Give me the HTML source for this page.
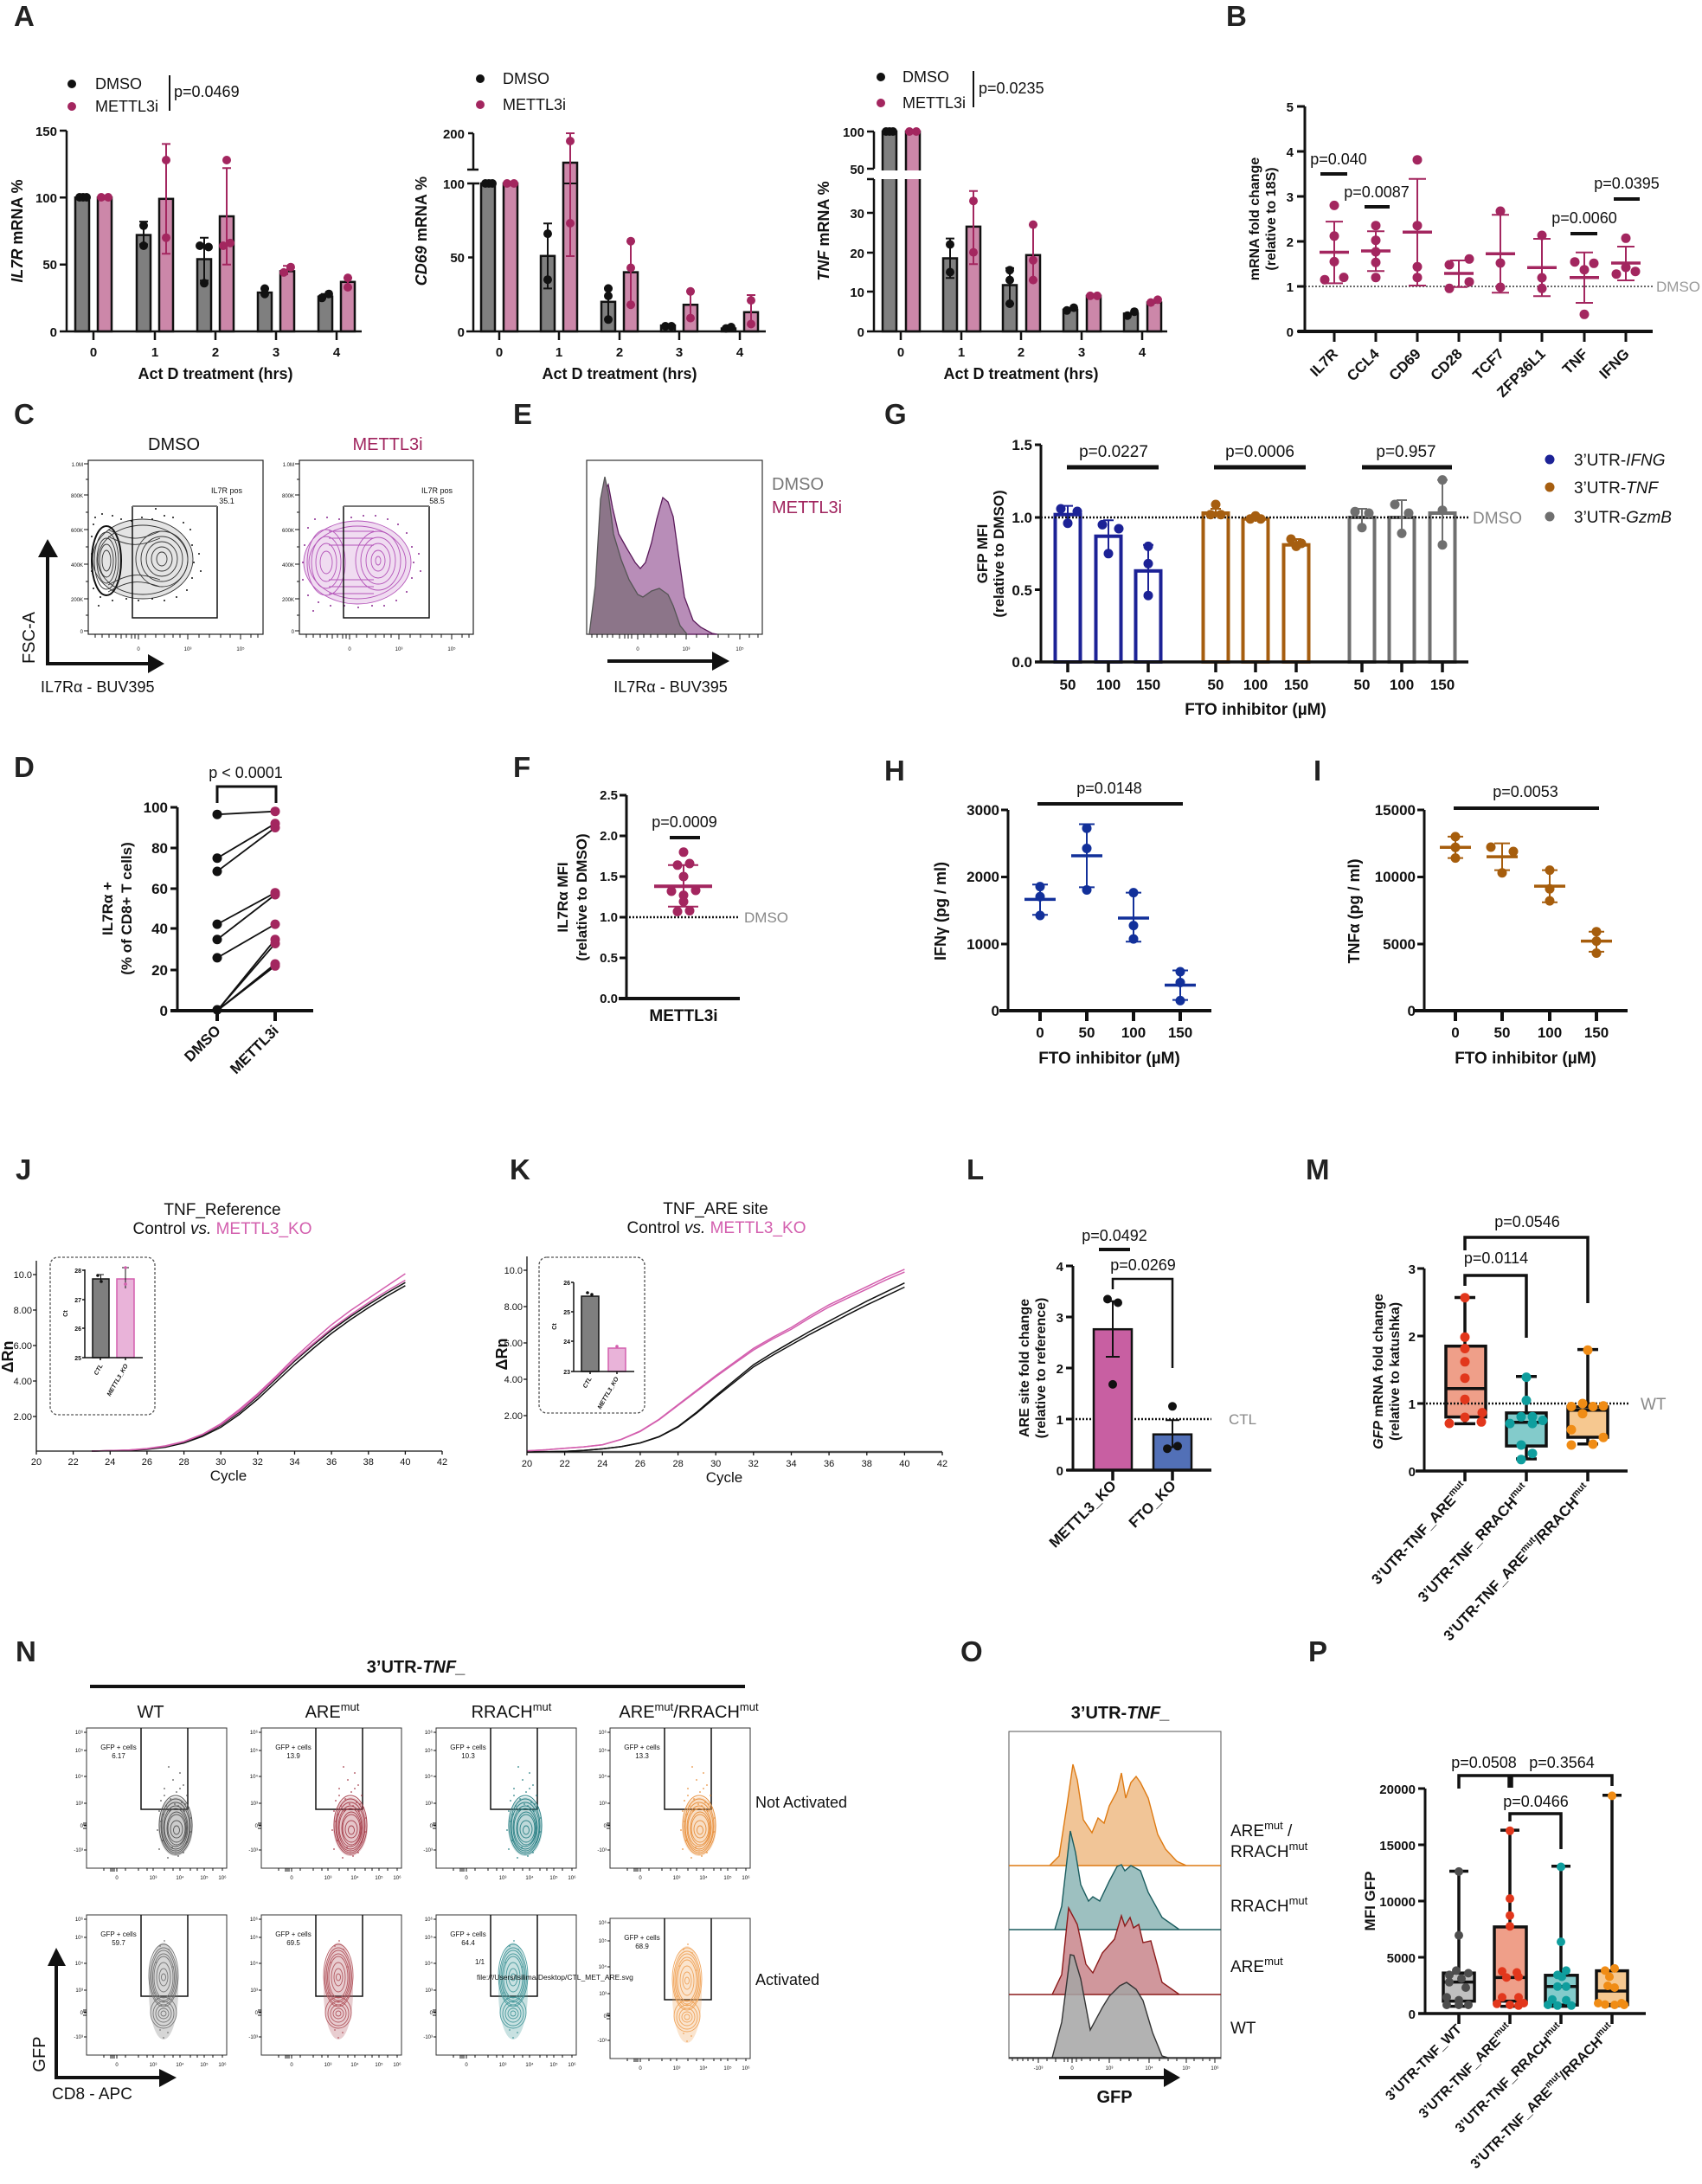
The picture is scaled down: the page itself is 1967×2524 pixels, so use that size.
<!DOCTYPE html>
<html><head><meta charset="utf-8"><style>
html,body{margin:0;padding:0;background:#fff}
svg{display:block}
text{font-family:"Liberation Sans",Arial,sans-serif;fill:#111}
.L{font-size:33px;font-weight:bold;fill:#222}
.tk{font-size:15px;font-weight:bold}
.tt{font-size:18px;font-weight:bold}
.lg{font-size:18px}
.xl{font-size:17px;font-weight:bold}
.fl{font-size:7px}
.ft{font-size:6px}
</style></head><body>
<svg xmlns="http://www.w3.org/2000/svg" width="1967" height="2524" viewBox="0 0 1967 2524">
<defs>
<g id="nr1">
<ellipse cx="103" cy="114" rx="20" ry="34" fill-opacity="0.3" stroke="none"/>
<ellipse cx="103" cy="112" rx="19" ry="34" fill="none"/>
<ellipse cx="103" cy="113" rx="17" ry="31" fill="none"/>
<ellipse cx="103" cy="114" rx="16" ry="28" fill="none"/>
<ellipse cx="103" cy="115" rx="14" ry="25" fill="none"/>
<ellipse cx="103" cy="115" rx="13" ry="22" fill="none"/>
<ellipse cx="104" cy="116" rx="11" ry="19" fill="none"/>
<ellipse cx="104" cy="116" rx="10" ry="16" fill="none"/>
<ellipse cx="104" cy="117" rx="7" ry="10" fill="none"/>
<ellipse cx="104" cy="118" rx="3.5" ry="5" fill="none"/>
<g stroke="none">
<circle cx="95" cy="45" r="0.9"/><circle cx="108" cy="52" r="0.9"/><circle cx="100" cy="60" r="0.9"/><circle cx="112" cy="66" r="0.9"/><circle cx="90" cy="70" r="0.9"/><circle cx="104" cy="74" r="0.9"/><circle cx="116" cy="78" r="0.9"/><circle cx="86" cy="84" r="0.9"/><circle cx="97" cy="82" r="0.9"/><circle cx="110" cy="86" r="0.9"/><circle cx="92" cy="90" r="0.9"/><circle cx="118" cy="92" r="0.9"/><circle cx="84" cy="96" r="0.9"/><circle cx="100" cy="94" r="0.9"/><circle cx="88" cy="130" r="0.9"/><circle cx="116" cy="132" r="0.9"/><circle cx="84" cy="140" r="0.9"/><circle cx="112" cy="144" r="0.9"/><circle cx="94" cy="150" r="0.9"/><circle cx="106" cy="148" r="0.9"/><circle cx="120" cy="120" r="0.9"/><circle cx="82" cy="118" r="0.9"/><circle cx="86" cy="108" r="0.9"/><circle cx="121" cy="104" r="0.9"/><circle cx="99" cy="138" r="0.9"/><circle cx="108" cy="70" r="0.9"/><circle cx="96" cy="96" r="0.9"/><circle cx="113" cy="96" r="0.9"/><circle cx="102" cy="88" r="0.9"/><circle cx="90" cy="78" r="0.9"/><circle cx="106" cy="90" r="0.9"/><circle cx="114" cy="88" r="0.9"/><circle cx="89" cy="100" r="0.9"/>
</g>
</g>
<g id="nr2">
<ellipse cx="89" cy="88" rx="17" ry="56" fill-opacity="0.3" stroke="none"/>
<ellipse cx="89" cy="70" rx="17" ry="36" fill="none"/>
<ellipse cx="89" cy="71" rx="15.5" ry="33" fill="none"/>
<ellipse cx="89" cy="71" rx="14" ry="30" fill="none"/>
<ellipse cx="89" cy="72" rx="12.5" ry="27" fill="none"/>
<ellipse cx="89" cy="72" rx="11" ry="24" fill="none"/>
<ellipse cx="89" cy="72" rx="8" ry="17" fill="none"/>
<ellipse cx="89" cy="72" rx="5" ry="10" fill="none"/>
<ellipse cx="89" cy="72" rx="2.5" ry="4" fill="none"/>
<ellipse cx="89" cy="113" rx="15" ry="18" fill="none"/>
<ellipse cx="89" cy="114" rx="12" ry="14" fill="none"/>
<ellipse cx="89" cy="114" rx="9" ry="10" fill="none"/>
<ellipse cx="89" cy="114" rx="6" ry="6" fill="none"/>
<ellipse cx="89" cy="114" rx="3" ry="3" fill="none"/>
<g stroke="none">
<circle cx="90" cy="30" r="0.9"/><circle cx="85" cy="36" r="0.9"/><circle cx="95" cy="40" r="0.9"/><circle cx="80" cy="55" r="0.9"/><circle cx="100" cy="60" r="0.9"/><circle cx="78" cy="90" r="0.9"/><circle cx="101" cy="95" r="0.9"/><circle cx="85" cy="133" r="0.9"/><circle cx="94" cy="136" r="0.9"/><circle cx="89" cy="142" r="0.9"/>
</g>
</g>
<g id="nfr">
<rect x="0" y="0" width="162" height="162" fill="none" stroke="#333" stroke-width="1"/>
<path d="M63,0V94H117V0" fill="none" stroke="#111" stroke-width="1.5"/>
<text x="37" y="25" font-size="8" text-anchor="middle">GFP + cells</text>
<g class="ft" text-anchor="end">
<text x="-4" y="7">10⁶</text><text x="-4" y="28">10⁵</text><text x="-4" y="58">10⁴</text><text x="-4" y="89">10³</text><text x="-4" y="115">0</text><text x="-4" y="143">-10³</text>
</g>
<g class="ft" text-anchor="middle">
<text x="35" y="175">0</text><text x="77" y="175">10³</text><text x="108" y="175">10⁴</text><text x="136" y="175">10⁵</text><text x="157" y="175">10⁶</text>
</g>
<path d="M0,5h-3M0,26h-3M0,56h-3M0,87h-3M0,113h-3M0,141h-3M0,110h-4M0,112h-4M0,116h-4M35,162v4M77,162v3M108,162v3M136,162v3M157,162v3M20,162v3M28,162v4M30,162v4M32,162v4M45,162v3M60,162v3M70,162v3M90,162v3M100,162v3M120,162v3M128,162v3M146,162v3" stroke="#111" stroke-width="1"/>
</g>
</defs>

<!-- Panel letters -->
<text class="L" x="16" y="30">A</text>
<text class="L" x="1417" y="30">B</text>
<text class="L" x="16" y="490">C</text>
<text class="L" x="593" y="490">E</text>
<text class="L" x="1022" y="490">G</text>
<text class="L" x="16" y="898">D</text>
<text class="L" x="593" y="898">F</text>
<text class="L" x="1022" y="902">H</text>
<text class="L" x="1518" y="902">I</text>
<text class="L" x="18" y="1363">J</text>
<text class="L" x="589" y="1363">K</text>
<text class="L" x="1117" y="1363">L</text>
<text class="L" x="1509" y="1363">M</text>
<text class="L" x="18" y="1920">N</text>
<text class="L" x="1110" y="1920">O</text>
<text class="L" x="1512" y="1920">P</text>

<!-- ================= A chart 1 ================= -->
<g stroke="#111" stroke-width="2.5">
<rect x="87" y="228.3" width="16" height="154.7" fill="#7f7f7f"/>
<rect x="113" y="228.3" width="16" height="154.7" fill="#cc87a9"/>
<rect x="158" y="271.6" width="16" height="111.4" fill="#7f7f7f"/>
<rect x="184" y="229.8" width="16" height="153.2" fill="#cc87a9"/>
<rect x="228" y="299.5" width="16" height="83.5" fill="#7f7f7f"/>
<rect x="254" y="250" width="16" height="133" fill="#cc87a9"/>
<rect x="298" y="338.1" width="16" height="44.9" fill="#7f7f7f"/>
<rect x="324" y="313.4" width="16" height="69.6" fill="#cc87a9"/>
<rect x="368" y="342.8" width="16" height="40.2" fill="#7f7f7f"/>
<rect x="394" y="325.8" width="16" height="57.2" fill="#cc87a9"/>
</g>
<path d="M166,282.4V256.1M161,256.1H171M161,282.4H171M236,324.2V274.7M231,274.7H241M231,324.2H241M306,341.2V333.5M301,333.5H311M376,345.9V339.7M371,339.7H381" stroke="#111" stroke-width="2" fill="none"/>
<path d="M192,293.3V166.4M187,166.4H197M187,293.3H197M262,305.7V194.3M257,194.3H267M257,305.7H267M332,318V307.2M327,307.2H337M402,332V321.1M397,321.1H407" stroke="#a3265f" stroke-width="2" fill="none"/>
<g fill="#111">
<circle cx="92" cy="228" r="5"/><circle cx="96" cy="228" r="5"/><circle cx="100" cy="228" r="5"/><circle cx="166" cy="260.8" r="5"/><circle cx="166" cy="284" r="5"/><circle cx="231" cy="284" r="5"/><circle cx="241" cy="285.5" r="5"/><circle cx="236" cy="327.3" r="5"/><circle cx="306" cy="333.5" r="5"/><circle cx="306" cy="339.7" r="5"/><circle cx="372" cy="344.3" r="5"/><circle cx="380" cy="339.7" r="5"/>
</g>
<g fill="#a3265f">
<circle cx="117" cy="228" r="5"/><circle cx="125" cy="228" r="5"/><circle cx="192" cy="185" r="5"/><circle cx="192" cy="274.7" r="5"/><circle cx="262" cy="185" r="5"/><circle cx="258" cy="284" r="5"/><circle cx="266" cy="280.9" r="5"/><circle cx="328" cy="314.9" r="5"/><circle cx="336" cy="308.7" r="5"/><circle cx="402" cy="321.1" r="5"/><circle cx="402" cy="332" r="5"/>
</g>
<path d="M77,151V383M69,151H77M69,228.3H77M69,305.7H77M69,383H77M72,383H418M108,383V393M179,383V393M249,383V393M319,383V393M389,383V393" stroke="#111" stroke-width="2.5" fill="none"/>
<g class="tk" text-anchor="end"><text x="66" y="157">150</text><text x="66" y="234">100</text><text x="66" y="311">50</text><text x="66" y="389">0</text></g>
<g class="tk" text-anchor="middle"><text x="108" y="412">0</text><text x="179" y="412">1</text><text x="249" y="412">2</text><text x="319" y="412">3</text><text x="389" y="412">4</text></g>
<text class="tt" x="249" y="438" text-anchor="middle">Act D treatment (hrs)</text>
<text class="tt" transform="translate(26,267) rotate(-90)" text-anchor="middle"><tspan font-style="italic">IL7R</tspan> mRNA %</text>
<circle cx="83" cy="97" r="5" fill="#111"/><text class="lg" x="110" y="103">DMSO</text>
<circle cx="83" cy="123" r="5" fill="#a3265f"/><text class="lg" x="110" y="129">METTL3i</text>
<path d="M196,87V128" stroke="#111" stroke-width="2"/>
<text class="lg" x="201" y="112">p=0.0469</text>

<!-- ================= A chart 2 ================= -->
<g stroke="#111" stroke-width="2.5">
<rect x="556" y="212" width="16" height="171" fill="#7f7f7f"/>
<rect x="582" y="212" width="16" height="171" fill="#cc87a9"/>
<rect x="625" y="295.8" width="16" height="87.2" fill="#7f7f7f"/>
<rect x="651" y="188" width="16" height="195" fill="#cc87a9"/>
<rect x="695" y="348.8" width="16" height="34.2" fill="#7f7f7f"/>
<rect x="721" y="314.6" width="16" height="68.4" fill="#cc87a9"/>
<rect x="764" y="376.2" width="16" height="6.8" fill="#7f7f7f"/>
<rect x="790" y="352.2" width="16" height="30.8" fill="#cc87a9"/>
<rect x="834" y="379.6" width="16" height="3.4" fill="#7f7f7f"/>
<rect x="860" y="360.8" width="16" height="22.2" fill="#cc87a9"/>
</g>
<path d="M651,212H667" stroke="#111" stroke-width="2"/>
<path d="M633,333.4V258.2M628,258.2H638M628,333.4H638M703,369.3V333.4M698,333.4H708" stroke="#111" stroke-width="2" fill="none"/>
<path d="M659,296V154M654,154H664M654,296H664M729,352.2V278.7M724,278.7H734M724,352.2H734M798,367.6V336.8M793,336.8H803M868,374.5V341M863,341H873" stroke="#a3265f" stroke-width="2" fill="none"/>
<g fill="#111">
<circle cx="561" cy="212" r="5"/><circle cx="565" cy="212" r="5"/><circle cx="569" cy="212" r="5"/><circle cx="633" cy="270.1" r="5"/><circle cx="633" cy="323.2" r="5"/><circle cx="703" cy="333.4" r="5"/><circle cx="703" cy="342" r="5"/><circle cx="703" cy="369.3" r="5"/><circle cx="769" cy="377" r="5"/><circle cx="776" cy="377" r="5"/><circle cx="839" cy="379.6" r="5"/><circle cx="845" cy="378" r="5"/>
</g>
<g fill="#a3265f">
<circle cx="586" cy="212" r="5"/><circle cx="594" cy="212" r="5"/><circle cx="659" cy="163" r="5"/><circle cx="659" cy="258" r="5"/><circle cx="729" cy="278.7" r="5"/><circle cx="729" cy="309.5" r="5"/><circle cx="729" cy="352.2" r="5"/><circle cx="798" cy="336.8" r="5"/><circle cx="798" cy="367.6" r="5"/><circle cx="868" cy="347.1" r="5"/><circle cx="868" cy="374.5" r="5"/>
</g>
<path d="M547,212V383M547,154V196M541,154H547M540,196H553M540,212H554M541,297.5H547M541,383H547M539,383H885M577,383V393M646,383V393M716,383V393M785,383V393M855,383V393" stroke="#111" stroke-width="2.5" fill="none"/>
<g class="tk" text-anchor="end"><text x="537" y="160">200</text><text x="537" y="218">100</text><text x="537" y="303">50</text><text x="537" y="389">0</text></g>
<g class="tk" text-anchor="middle"><text x="577" y="412">0</text><text x="646" y="412">1</text><text x="716" y="412">2</text><text x="785" y="412">3</text><text x="855" y="412">4</text></g>
<text class="tt" x="716" y="438" text-anchor="middle">Act D treatment (hrs)</text>
<text class="tt" transform="translate(493,267) rotate(-90)" text-anchor="middle"><tspan font-style="italic">CD69</tspan> mRNA %</text>
<circle cx="555" cy="91" r="5" fill="#111"/><text class="lg" x="581" y="97">DMSO</text>
<circle cx="555" cy="121" r="5" fill="#a3265f"/><text class="lg" x="581" y="127">METTL3i</text>

<!-- ================= A chart 3 ================= -->
<g stroke="#111" stroke-width="2.5">
<rect x="1020" y="152" width="16" height="231" fill="#7f7f7f"/>
<rect x="1047" y="152" width="16" height="231" fill="#cc87a9"/>
<rect x="1090" y="298.5" width="16" height="84.5" fill="#7f7f7f"/>
<rect x="1117" y="261.9" width="16" height="121.1" fill="#cc87a9"/>
<rect x="1159" y="329.5" width="16" height="53.5" fill="#7f7f7f"/>
<rect x="1186" y="294.8" width="16" height="88.2" fill="#cc87a9"/>
<rect x="1229" y="357.9" width="16" height="25.1" fill="#7f7f7f"/>
<rect x="1256" y="341.9" width="16" height="41.1" fill="#cc87a9"/>
<rect x="1299" y="362.4" width="16" height="20.6" fill="#7f7f7f"/>
<rect x="1326" y="349.6" width="16" height="33.4" fill="#cc87a9"/>
</g>
<rect x="1000" y="197" width="70" height="10" fill="#fff"/>
<path d="M1098,321.3V275.6M1093,275.6H1103M1093,321.3H1103M1167,351V309.9M1162,309.9H1172M1162,351H1172" stroke="#111" stroke-width="2" fill="none"/>
<path d="M1125,305.3V220.8M1120,220.8H1130M1120,305.3H1130M1194,323.6V259.6M1189,259.6H1199M1189,323.6H1199" stroke="#a3265f" stroke-width="2" fill="none"/>
<g fill="#111">
<circle cx="1024" cy="152" r="5"/><circle cx="1028" cy="152" r="5"/><circle cx="1032" cy="152" r="5"/><circle cx="1098" cy="282.5" r="5"/><circle cx="1098" cy="314.5" r="5"/><circle cx="1167" cy="312.2" r="5"/><circle cx="1167" cy="323.6" r="5"/><circle cx="1167" cy="351" r="5"/><circle cx="1233" cy="358.8" r="5"/><circle cx="1241" cy="355.6" r="5"/><circle cx="1303" cy="364.7" r="5"/><circle cx="1311" cy="360.2" r="5"/>
</g>
<g fill="#a3265f">
<circle cx="1051" cy="152" r="5"/><circle cx="1059" cy="152" r="5"/><circle cx="1125" cy="232.2" r="5"/><circle cx="1125" cy="291.6" r="5"/><circle cx="1194" cy="259.6" r="5"/><circle cx="1194" cy="300.7" r="5"/><circle cx="1194" cy="323.6" r="5"/><circle cx="1260" cy="341.9" r="5"/><circle cx="1268" cy="341.9" r="5"/><circle cx="1330" cy="349.6" r="5"/><circle cx="1338" cy="346.4" r="5"/>
</g>
<path d="M1010,152V195M1010,207V383M1002,152H1010M1002,195H1010M1002,207H1010M1002,246H1010M1002,292H1010M1002,337H1010M1002,383H1010M1002,383H1349M1041,383V393M1111,383V393M1180,383V393M1250,383V393M1320,383V393" stroke="#111" stroke-width="2.5" fill="none"/>
<g class="tk" text-anchor="end"><text x="999" y="158">100</text><text x="999" y="201">50</text><text x="999" y="252">30</text><text x="999" y="298">20</text><text x="999" y="343">10</text><text x="999" y="389">0</text></g>
<g class="tk" text-anchor="middle"><text x="1041" y="412">0</text><text x="1111" y="412">1</text><text x="1180" y="412">2</text><text x="1250" y="412">3</text><text x="1320" y="412">4</text></g>
<text class="tt" x="1180" y="438" text-anchor="middle">Act D treatment (hrs)</text>
<text class="tt" transform="translate(958,267) rotate(-90)" text-anchor="middle"><tspan font-style="italic">TNF</tspan> mRNA %</text>
<circle cx="1018" cy="89" r="5" fill="#111"/><text class="lg" x="1043" y="95">DMSO</text>
<circle cx="1018" cy="119" r="5" fill="#a3265f"/><text class="lg" x="1043" y="125">METTL3i</text>
<path d="M1125,82V124" stroke="#111" stroke-width="2"/>
<text class="lg" x="1131" y="108">p=0.0235</text>

<!-- ================= B ================= -->
<path d="M1508,331H1912" stroke="#666" stroke-width="2" stroke-dasharray="2,2"/>
<text x="1914" y="337" font-size="17" fill="#999" style="fill:#999">DMSO</text>
<g stroke="#a3265f" fill="none">
<path stroke-width="3.5" d="M1525,291.5H1559M1573,290H1607M1621,268.3H1655M1669,316H1703M1717,293.3H1751M1765,309.3H1799M1814,320.7H1848M1862,304H1896"/>
<path stroke-width="2" d="M1542,327.4V256.1M1532,327.4H1552M1532,256.1H1552M1590,313.3V267.3M1580,313.3H1600M1580,267.3H1600M1638,330V206.7M1628,330H1648M1628,206.7H1648M1686,331.7V301M1676,331.7H1696M1676,301H1696M1734,338.3V248.3M1724,338.3H1744M1724,248.3H1744M1782,342.3V276M1772,342.3H1792M1772,276H1792M1831,350V291.7M1821,350H1841M1821,291.7H1841M1879,324V285M1869,324H1889M1869,285H1889"/>
</g>
<g fill="#a3265f">
<circle cx="1542" cy="237.4" r="5.5"/><circle cx="1542" cy="272.8" r="5.5"/><circle cx="1542" cy="302.4" r="5.5"/><circle cx="1531" cy="323.2" r="5.5"/><circle cx="1553" cy="320.6" r="5.5"/>
<circle cx="1590" cy="260.7" r="5.5"/><circle cx="1590" cy="277.7" r="5.5"/><circle cx="1590" cy="291" r="5.5"/><circle cx="1590" cy="303.3" r="5.5"/><circle cx="1590" cy="320.7" r="5.5"/>
<circle cx="1638" cy="184.7" r="5.5"/><circle cx="1638" cy="260.7" r="5.5"/><circle cx="1638" cy="308.3" r="5.5"/><circle cx="1638" cy="320.7" r="5.5"/>
<circle cx="1675" cy="306" r="5.5"/><circle cx="1698" cy="299.3" r="5.5"/><circle cx="1675" cy="333.3" r="5.5"/><circle cx="1698" cy="325.7" r="5.5"/>
<circle cx="1734" cy="244" r="5.5"/><circle cx="1734" cy="304" r="5.5"/><circle cx="1734" cy="332" r="5.5"/>
<circle cx="1782" cy="272" r="5.5"/><circle cx="1782" cy="321" r="5.5"/><circle cx="1782" cy="333.3" r="5.5"/>
<circle cx="1820" cy="302.7" r="5.5"/><circle cx="1842" cy="304.3" r="5.5"/><circle cx="1831" cy="311.7" r="5.5"/><circle cx="1831" cy="363.3" r="5.5"/>
<circle cx="1879" cy="275.3" r="5.5"/><circle cx="1868" cy="316.7" r="5.5"/><circle cx="1890" cy="313.7" r="5.5"/><circle cx="1879" cy="309" r="5.5"/>
</g>
<path d="M1508,123V383M1499,123H1508M1499,175H1508M1499,227H1508M1499,279H1508M1499,331H1508M1499,383H1508" stroke="#111" stroke-width="3" fill="none"/>
<path d="M1500,383H1910" stroke="#111" stroke-width="4"/>
<path d="M1542,383V395M1590,383V395M1638,383V395M1686,383V395M1734,383V395M1782,383V395M1831,383V395M1879,383V395" stroke="#111" stroke-width="3"/>
<g class="tk" text-anchor="end"><text x="1495" y="129">5</text><text x="1495" y="181">4</text><text x="1495" y="233">3</text><text x="1495" y="285">2</text><text x="1495" y="337">1</text><text x="1495" y="389">0</text></g>
<path d="M1526,201H1557M1577,239H1606M1815,270H1846M1865,230H1895" stroke="#111" stroke-width="4"/>
<g class="lg" text-anchor="middle"><text x="1547" y="190">p=0.040</text><text x="1591" y="228">p=0.0087</text><text x="1831" y="258">p=0.0060</text><text x="1880" y="218">p=0.0395</text></g>
<text font-size="16" font-weight="bold" transform="translate(1455,253) rotate(-90)" text-anchor="middle">mRNA fold change</text>
<text font-size="16" font-weight="bold" transform="translate(1474,253) rotate(-90)" text-anchor="middle">(relative to 18S)</text>
<g class="xl" text-anchor="end">
<text transform="translate(1547,410) rotate(-45)">IL7R</text>
<text transform="translate(1595,410) rotate(-45)">CCL4</text>
<text transform="translate(1643,410) rotate(-45)">CD69</text>
<text transform="translate(1691,410) rotate(-45)">CD28</text>
<text transform="translate(1739,410) rotate(-45)">TCF7</text>
<text transform="translate(1787,410) rotate(-45)">ZFP36L1</text>
<text transform="translate(1836,410) rotate(-45)">TNF</text>
<text transform="translate(1884,410) rotate(-45)">IFNG</text>
</g>

<!-- ================= C ================= -->
<text x="201" y="520" font-size="20" text-anchor="middle">DMSO</text>
<text x="448" y="520" font-size="20" text-anchor="middle" style="fill:#a0245e">METTL3i</text>
<rect x="102" y="532" width="202" height="201" fill="none" stroke="#222" stroke-width="1.2"/>
<rect x="346" y="532" width="201" height="201" fill="none" stroke="#222" stroke-width="1.2"/>
<g class="ft" text-anchor="end">
<text x="96" y="539">1.0M</text><text x="96" y="575">800K</text><text x="96" y="615">600K</text><text x="96" y="655">400K</text><text x="96" y="695">200K</text><text x="96" y="732">0</text>
<text x="340" y="539">1.0M</text><text x="340" y="575">800K</text><text x="340" y="615">600K</text><text x="340" y="655">400K</text><text x="340" y="695">200K</text><text x="340" y="732">0</text>
</g>
<g class="ft" text-anchor="middle">
<text x="160" y="752">0</text><text x="217" y="752">10³</text><text x="278" y="752">10⁵</text>
<text x="404" y="752">0</text><text x="461" y="752">10³</text><text x="522" y="752">10⁵</text>
<text x="737" y="752">0</text><text x="793" y="752">10³</text><text x="855" y="752">10⁵</text>
</g>
<path d="M102,536h-5M102,572h-5M102,612h-5M102,652h-5M102,692h-5M102,729h-5M102,554h-3M102,592h-3M102,632h-3M102,672h-3M102,711h-3M346,536h-5M346,572h-5M346,612h-5M346,652h-5M346,692h-5M346,729h-5M346,554h-3M346,592h-3M346,632h-3M346,672h-3M346,711h-3" stroke="#111" stroke-width="1"/>
<path d="M110,733v4M118,733v4M126,733v4M134,733v4M140,733v5M146,733v4M152,733v5M156,733v5M160,733v6M168,733v4M180,733v4M190,733v4M200,733v4M208,733v4M217,733v6M230,733v4M242,733v4M255,733v4M266,733v4M278,733v6M290,733v4M298,733v4M354,733v4M362,733v4M370,733v4M378,733v4M384,733v5M390,733v4M396,733v5M400,733v5M404,733v6M412,733v4M424,733v4M434,733v4M444,733v4M452,733v4M461,733v6M474,733v4M486,733v4M499,733v4M510,733v4M522,733v6M534,733v4M542,733v4" stroke="#111" stroke-width="1"/>
<!-- DMSO contour -->
<ellipse cx="165" cy="646" rx="58" ry="46" fill="#e4e4e4"/>
<g fill="none" stroke="#333" stroke-width="0.9">
<ellipse cx="165" cy="646" rx="58" ry="46"/>
<ellipse cx="165" cy="647" rx="52" ry="40"/>
<ellipse cx="123" cy="648" rx="17" ry="40" stroke-width="2" stroke="#111"/>
<ellipse cx="123" cy="648" rx="14" ry="33"/>
<ellipse cx="123" cy="648" rx="11" ry="26"/>
<ellipse cx="123" cy="648" rx="8" ry="19"/>
<ellipse cx="123" cy="648" rx="5" ry="12"/>
<ellipse cx="187" cy="646" rx="30" ry="32"/>
<ellipse cx="187" cy="646" rx="24" ry="26"/>
<ellipse cx="187" cy="646" rx="18" ry="20"/>
<ellipse cx="187" cy="646" rx="12" ry="14"/>
<ellipse cx="187" cy="646" rx="6" ry="8"/>
<path d="M125,612C150,625 160,625 185,614M125,684C150,670 160,670 185,678M125,620C150,632 160,632 185,622M125,676C150,662 160,662 185,670"/>
</g>
<g fill="#111">
<circle cx="110" cy="598" r="1"/><circle cx="118" cy="594" r="1"/><circle cx="130" cy="596" r="1"/><circle cx="140" cy="600" r="1"/><circle cx="152" cy="602" r="1"/><circle cx="164" cy="598" r="1"/><circle cx="176" cy="600" r="1"/><circle cx="190" cy="596" r="1"/><circle cx="200" cy="598" r="1"/><circle cx="212" cy="604" r="1"/><circle cx="220" cy="612" r="1"/><circle cx="222" cy="630" r="1"/><circle cx="224" cy="650" r="1"/><circle cx="222" cy="668" r="1"/><circle cx="216" cy="682" r="1"/><circle cx="204" cy="690" r="1"/><circle cx="190" cy="694" r="1"/><circle cx="176" cy="692" r="1"/><circle cx="160" cy="694" r="1"/><circle cx="146" cy="692" r="1"/><circle cx="130" cy="694" r="1"/><circle cx="116" cy="690" r="1"/><circle cx="108" cy="680" r="1"/><circle cx="106" cy="660" r="1"/><circle cx="106" cy="640" r="1"/><circle cx="106" cy="620" r="1"/><circle cx="108" cy="606" r="1"/><circle cx="230" cy="640" r="1"/><circle cx="232" cy="660" r="1"/><circle cx="114" cy="700" r="1"/><circle cx="180" cy="588" r="1"/>
</g>
<!-- METTL3i contour -->
<ellipse cx="413" cy="650" rx="62" ry="48" fill="#f0dcf1"/>
<g fill="none" stroke="#b455b9" stroke-width="0.9">
<ellipse cx="413" cy="650" rx="62" ry="48"/>
<ellipse cx="413" cy="650" rx="56" ry="42"/>
<ellipse cx="377" cy="650" rx="22" ry="38"/>
<ellipse cx="377" cy="650" rx="17" ry="30"/>
<ellipse cx="377" cy="650" rx="12" ry="22"/>
<ellipse cx="377" cy="650" rx="7" ry="13"/>
<ellipse cx="437" cy="648" rx="26" ry="34"/>
<ellipse cx="437" cy="648" rx="20" ry="27"/>
<ellipse cx="437" cy="648" rx="14" ry="20"/>
<ellipse cx="437" cy="648" rx="8" ry="12"/>
<ellipse cx="437" cy="648" rx="3" ry="5"/>
<path d="M380,614H432M380,622H432M380,678H432M380,686H432M380,630H432M380,670H432"/>
</g>
<g fill="#8a2a90">
<circle cx="356" cy="610" r="1"/><circle cx="364" cy="600" r="1"/><circle cx="378" cy="598" r="1"/><circle cx="392" cy="600" r="1"/><circle cx="406" cy="598" r="1"/><circle cx="420" cy="596" r="1"/><circle cx="434" cy="596" r="1"/><circle cx="448" cy="600" r="1"/><circle cx="460" cy="606" r="1"/><circle cx="470" cy="616" r="1"/><circle cx="476" cy="632" r="1"/><circle cx="478" cy="650" r="1"/><circle cx="476" cy="668" r="1"/><circle cx="470" cy="684" r="1"/><circle cx="458" cy="694" r="1"/><circle cx="444" cy="700" r="1"/><circle cx="430" cy="700" r="1"/><circle cx="414" cy="702" r="1"/><circle cx="398" cy="700" r="1"/><circle cx="382" cy="700" r="1"/><circle cx="368" cy="696" r="1"/><circle cx="356" cy="688" r="1"/><circle cx="350" cy="670" r="1"/><circle cx="350" cy="650" r="1"/><circle cx="352" cy="630" r="1"/><circle cx="484" cy="640" r="1"/><circle cx="486" cy="660" r="1"/><circle cx="362" cy="706" r="1"/>
</g>
<!-- gates -->
<path d="M153,585V714H251V585" fill="none" stroke="#111" stroke-width="1.5"/>
<path d="M153,585H251" stroke="#777" stroke-width="2"/>
<path d="M397,585V714H496V585" fill="none" stroke="#111" stroke-width="1.5"/>
<path d="M397,585H496" stroke="#777" stroke-width="2"/>
<g font-size="9" text-anchor="middle">
<text x="262" y="570">IL7R pos</text><text x="262" y="582">35.1</text>
<text x="505" y="570">IL7R pos</text><text x="505" y="582">58.5</text>
</g>
<!-- C arrows -->
<path d="M55,767V640M53,767H173" stroke="#111" stroke-width="4" fill="none"/>
<polygon points="44,644 55,623 67,644" fill="#111"/>
<polygon points="171,756 190,767 171,778" fill="#111"/>
<text font-size="20" transform="translate(40,737) rotate(-90)" text-anchor="middle">FSC-A</text>
<text font-size="18" x="47" y="800">IL7Rα - BUV395</text>

<!-- ================= E ================= -->
<rect x="678" y="532" width="203" height="201" fill="none" stroke="#333" stroke-width="1.2"/>
<path d="M681,733L686,720L692,627L699,567L703,560L708,587L715,617L724,633L734,650L740,657L746,650L753,627L759,600L766,575L772,580L778,597L783,633L791,690L801,717L810,725L823,732L829,733Z" fill="#b88db8" stroke="#5a1a5a" stroke-width="1.3"/>
<path d="M681,733L688,677L694,577L699,551L703,570L709,617L718,647L727,670L737,687L743,690L753,683L762,680L772,687L778,700L786,723L794,733Z" fill="#8c7589" stroke="#555" stroke-width="1.3"/>
<path d="M684,733v4M690,733v4M696,733v4M702,733v4M708,733v4M716,733v5M722,733v5M726,733v5M730,733v5M737,733v6M744,733v4M752,733v4M760,733v4M770,733v4M780,733v4M793,733v6M805,733v4M818,733v4M830,733v4M842,733v4M855,733v6M866,733v4M876,733v4" stroke="#111" stroke-width="1"/>
<text x="892" y="566" font-size="20" style="fill:#777">DMSO</text>
<text x="892" y="593" font-size="20" style="fill:#a0245e">METTL3i</text>
<path d="M702,764H826" stroke="#111" stroke-width="4"/>
<polygon points="823,753 843,764 823,775" fill="#111"/>
<text font-size="18" x="775" y="800" text-anchor="middle">IL7Rα - BUV395</text>

<!-- ================= G ================= -->
<g fill="#fff" stroke-width="4">
<rect x="1219.5" y="594.7" width="29" height="170.3" stroke="#1c2296"/>
<rect x="1266.5" y="619.7" width="29" height="145.3" stroke="#1c2296"/>
<rect x="1312.5" y="659.8" width="29" height="105.2" stroke="#1c2296"/>
<rect x="1390.5" y="593" width="29" height="172" stroke="#a65e10"/>
<rect x="1436.5" y="599.7" width="29" height="165.3" stroke="#a65e10"/>
<rect x="1483.5" y="629.7" width="29" height="135.3" stroke="#a65e10"/>
<rect x="1559.5" y="598" width="29" height="167" stroke="#6f6f6f"/>
<rect x="1605.5" y="598" width="29" height="167" stroke="#6f6f6f"/>
<rect x="1652.5" y="593" width="29" height="172" stroke="#6f6f6f"/>
</g>
<path d="M1203,598H1697" stroke="#111" stroke-width="2.5" stroke-dasharray="2,2"/>
<path d="M1234,603V584.6M1228,584.6H1240M1281,636.4V601.3M1275,601.3H1287M1327,688.2V629.7M1321,629.7H1333" stroke="#1c2296" stroke-width="2" fill="none"/>
<path d="M1405,598V588M1399,588H1411M1451,603V596.3M1445,596.3H1457M1498,633V623M1492,623H1504" stroke="#a65e10" stroke-width="2" fill="none"/>
<path d="M1574,608V588M1568,588H1580M1620,614.7V578M1614,578H1626M1667,631.4V554.6M1661,554.6H1673" stroke="#6f6f6f" stroke-width="2" fill="none"/>
<g fill="#1c2296"><circle cx="1226" cy="588" r="5.5"/><circle cx="1245" cy="591" r="5.5"/><circle cx="1234" cy="604.7" r="5.5"/><circle cx="1274" cy="606.4" r="5.5"/><circle cx="1293" cy="611" r="5.5"/><circle cx="1281" cy="639.8" r="5.5"/><circle cx="1327" cy="631.4" r="5.5"/><circle cx="1327" cy="651.4" r="5.5"/><circle cx="1327" cy="688.2" r="5.5"/></g>
<g fill="#a65e10"><circle cx="1405" cy="583" r="5.5"/><circle cx="1399" cy="594.7" r="5.5"/><circle cx="1411" cy="594.7" r="5.5"/><circle cx="1451" cy="596.3" r="5.5"/><circle cx="1445" cy="599.7" r="5.5"/><circle cx="1457" cy="599.7" r="5.5"/><circle cx="1492" cy="623" r="5.5"/><circle cx="1504" cy="628" r="5.5"/><circle cx="1498" cy="631.4" r="5.5"/></g>
<g fill="#6f6f6f"><circle cx="1566" cy="591.3" r="5.5"/><circle cx="1582" cy="593" r="5.5"/><circle cx="1574" cy="609.7" r="5.5"/><circle cx="1612" cy="583" r="5.5"/><circle cx="1628" cy="593" r="5.5"/><circle cx="1620" cy="616.4" r="5.5"/><circle cx="1667" cy="554.6" r="5.5"/><circle cx="1667" cy="589.7" r="5.5"/><circle cx="1667" cy="629.7" r="5.5"/></g>
<path d="M1203,514V765M1196,514H1203M1196,598H1203M1196,681.5H1203M1196,765H1203" stroke="#111" stroke-width="3" fill="none"/>
<path d="M1196,765H1697M1234,765V777M1281,765V777M1327,765V777M1405,765V777M1451,765V777M1498,765V777M1574,765V777M1620,765V777M1667,765V777" stroke="#111" stroke-width="3.5" fill="none"/>
<g font-size="17" font-weight="bold" text-anchor="end"><text x="1193" y="520">1.5</text><text x="1193" y="604">1.0</text><text x="1193" y="688">0.5</text><text x="1193" y="771">0.0</text></g>
<g font-size="17" font-weight="bold" text-anchor="middle"><text x="1234" y="797">50</text><text x="1281" y="797">100</text><text x="1327" y="797">150</text><text x="1405" y="797">50</text><text x="1451" y="797">100</text><text x="1498" y="797">150</text><text x="1574" y="797">50</text><text x="1620" y="797">100</text><text x="1667" y="797">150</text></g>
<text x="1451" y="826" font-size="19" font-weight="bold" text-anchor="middle">FTO inhibitor (µM)</text>
<text x="1702" y="605" font-size="19" style="fill:#888">DMSO</text>
<path d="M1233,540H1339M1403,540H1509M1574,540H1678" stroke="#111" stroke-width="5"/>
<g font-size="19" text-anchor="middle"><text x="1287" y="528">p=0.0227</text><text x="1456" y="528">p=0.0006</text><text x="1625" y="528">p=0.957</text></g>
<text font-size="17" font-weight="bold" transform="translate(1141,640) rotate(-90)" text-anchor="middle">GFP MFI</text>
<text font-size="17" font-weight="bold" transform="translate(1160,640) rotate(-90)" text-anchor="middle">(relative to DMSO)</text>
<circle cx="1791" cy="531" r="5.5" fill="#1c2296"/><circle cx="1791" cy="563" r="5.5" fill="#a65e10"/><circle cx="1791" cy="597" r="5.5" fill="#6f6f6f"/>
<g font-size="19"><text x="1819" y="538">3’UTR-<tspan font-style="italic">IFNG</tspan></text><text x="1819" y="570">3’UTR-<tspan font-style="italic">TNF</tspan></text><text x="1819" y="604">3’UTR-<tspan font-style="italic">GzmB</tspan></text></g>

<!-- ================= D ================= -->
<g stroke="#111" stroke-width="1.8">
<line x1="251" y1="941.2" x2="318" y2="937.7"/><line x1="251" y1="991.75" x2="318" y2="951.8"/><line x1="251" y1="1007" x2="318" y2="956.5"/><line x1="251" y1="1068.1" x2="318" y2="1031.7"/><line x1="251" y1="1085.75" x2="318" y2="1034"/><line x1="251" y1="1106.9" x2="318" y2="1068.1"/><line x1="251" y1="1168" x2="318" y2="1085.75"/><line x1="251" y1="1168" x2="318" y2="1090.45"/><line x1="251" y1="1168" x2="318" y2="1114"/><line x1="251" y1="1168" x2="318" y2="1116.3"/>
</g>
<g fill="#111"><circle cx="251" cy="941.2" r="5.5"/><circle cx="251" cy="991.75" r="5.5"/><circle cx="251" cy="1007" r="5.5"/><circle cx="251" cy="1068.1" r="5.5"/><circle cx="251" cy="1085.75" r="5.5"/><circle cx="251" cy="1106.9" r="5.5"/><circle cx="251" cy="1167" r="5.5"/></g>
<g fill="#a3265f"><circle cx="318" cy="937.7" r="5.5"/><circle cx="318" cy="951.8" r="5.5"/><circle cx="318" cy="956.5" r="5.5"/><circle cx="318" cy="1031.7" r="5.5"/><circle cx="318" cy="1034" r="5.5"/><circle cx="318" cy="1068.1" r="5.5"/><circle cx="318" cy="1085.75" r="5.5"/><circle cx="318" cy="1090.45" r="5.5"/><circle cx="318" cy="1114" r="5.5"/><circle cx="318" cy="1116.3" r="5.5"/></g>
<path d="M205,933V1168M197,933H205M197,980H205M197,1027H205M197,1073H205M197,1121H205M197,1168H205" stroke="#111" stroke-width="3" fill="none"/>
<path d="M197,1168H362M251,1168V1180M318,1168V1180" stroke="#111" stroke-width="4" fill="none"/>
<g font-size="17" font-weight="bold" text-anchor="end"><text x="194" y="939">100</text><text x="194" y="986">80</text><text x="194" y="1033">60</text><text x="194" y="1079">40</text><text x="194" y="1127">20</text><text x="194" y="1174">0</text></g>
<path d="M251,928V909H319V928" stroke="#111" stroke-width="3" fill="none"/>
<text class="lg" x="284" y="899" text-anchor="middle">p &lt; 0.0001</text>
<text font-size="17" font-weight="bold" transform="translate(130,1050) rotate(-90)" text-anchor="middle">IL7Rα +</text>
<text font-size="17" font-weight="bold" transform="translate(152,1050) rotate(-90)" text-anchor="middle">(% of CD8+ T cells)</text>
<g class="xl" text-anchor="end"><text transform="translate(256,1192) rotate(-45)">DMSO</text><text transform="translate(323,1192) rotate(-45)">METTL3i</text></g>

<!-- ================= F ================= -->
<path d="M727,1060H855" stroke="#111" stroke-width="2.5" stroke-dasharray="2,2"/>
<text x="860" y="1066" font-size="17" style="fill:#888">DMSO</text>
<path d="M756,1024.3H823" stroke="#a3265f" stroke-width="4"/>
<path d="M790,1047.8V999.8M772,1047.8H807M772,999.8H807" stroke="#a3265f" stroke-width="2" fill="none"/>
<g fill="#a3265f"><circle cx="790" cy="984.8" r="5.5"/><circle cx="783" cy="999.8" r="5.5"/><circle cx="797" cy="998" r="5.5"/><circle cx="790" cy="1013" r="5.5"/><circle cx="776" cy="1030" r="5.5"/><circle cx="804" cy="1029" r="5.5"/><circle cx="790" cy="1034.6" r="5.5"/><circle cx="790" cy="1042" r="5.5"/><circle cx="783" cy="1053.4" r="5.5"/><circle cx="797" cy="1052.5" r="5.5"/></g>
<path d="M724,919V1154M716,919H724M716,966H724M716,1013H724M716,1060H724M716,1107H724M716,1154H724" stroke="#111" stroke-width="3" fill="none"/>
<path d="M715,1154H855" stroke="#111" stroke-width="4"/>
<g font-size="15" font-weight="bold" text-anchor="end"><text x="714" y="924">2.5</text><text x="714" y="971">2.0</text><text x="714" y="1018">1.5</text><text x="714" y="1065">1.0</text><text x="714" y="1112">0.5</text><text x="714" y="1159">0.0</text></g>
<text x="790" y="1180" font-size="19" font-weight="bold" text-anchor="middle">METTL3i</text>
<path d="M774,968H809" stroke="#111" stroke-width="4"/>
<text class="lg" x="791" y="956" text-anchor="middle">p=0.0009</text>
<text font-size="17" font-weight="bold" transform="translate(656,1037) rotate(-90)" text-anchor="middle">IL7Rα MFI</text>
<text font-size="17" font-weight="bold" transform="translate(678,1037) rotate(-90)" text-anchor="middle">(relative to DMSO)</text>

<!-- ================= H ================= -->
<g stroke="#12309a" fill="none">
<path stroke-width="3.5" d="M1184,1039.35H1220M1238,989H1274M1292,1061H1328M1346,1138.55H1382"/>
<path stroke-width="2" d="M1202,1057.2V1022.3M1193,1057.2H1211M1193,1022.3H1211M1256,1025.4V952.55M1247,1025.4H1265M1247,952.55H1265M1310,1088.2V1031.6M1301,1088.2H1319M1301,1031.6H1319M1364,1155.6V1121.5M1355,1155.6H1373M1355,1121.5H1373"/>
</g>
<g fill="#12309a"><circle cx="1202" cy="1024.6" r="5.5"/><circle cx="1202" cy="1036.25" r="5.5"/><circle cx="1202" cy="1058" r="5.5"/><circle cx="1256" cy="957.2" r="5.5"/><circle cx="1256" cy="980.45" r="5.5"/><circle cx="1256" cy="1028.5" r="5.5"/><circle cx="1310" cy="1031.6" r="5.5"/><circle cx="1310" cy="1069.6" r="5.5"/><circle cx="1310" cy="1085.1" r="5.5"/><circle cx="1364" cy="1123" r="5.5"/><circle cx="1364" cy="1135.45" r="5.5"/><circle cx="1364" cy="1156.4" r="5.5"/></g>
<path d="M1165,936V1168M1157,936H1165M1157,1013.5H1165M1157,1091H1165M1157,1168H1165" stroke="#111" stroke-width="3" fill="none"/>
<path d="M1155,1168H1400M1202,1168V1180M1256,1168V1180M1310,1168V1180M1364,1168V1180" stroke="#111" stroke-width="4" fill="none"/>
<g font-size="17" font-weight="bold" text-anchor="end"><text x="1155" y="942">3000</text><text x="1155" y="1019">2000</text><text x="1155" y="1097">1000</text><text x="1155" y="1174">0</text></g>
<g font-size="17" font-weight="bold" text-anchor="middle"><text x="1202" y="1199">0</text><text x="1256" y="1199">50</text><text x="1310" y="1199">100</text><text x="1364" y="1199">150</text></g>
<text x="1282" y="1229" font-size="19" font-weight="bold" text-anchor="middle">FTO inhibitor (µM)</text>
<path d="M1199,929H1367" stroke="#111" stroke-width="4"/>
<text class="lg" x="1282" y="917" text-anchor="middle">p=0.0148</text>
<text font-size="18" font-weight="bold" transform="translate(1093,1053) rotate(-90)" text-anchor="middle">IFNγ (pg / ml)</text>

<!-- ================= I ================= -->
<g stroke="#a65d0c" fill="none">
<path stroke-width="3.5" d="M1664,979.3H1700M1718,990.1H1754M1773,1024.1H1809M1827,1087.6H1863"/>
<path stroke-width="2" d="M1682,991.6V966.9M1673,991.6H1691M1673,966.9H1691M1736,1005.6V974.6M1727,1005.6H1745M1727,974.6H1745M1791,1042.7V1005.6M1782,1042.7H1800M1782,1005.6H1800M1845,1099.9V1076.7M1836,1099.9H1854M1836,1076.7H1854"/>
</g>
<g fill="#a65d0c"><circle cx="1682" cy="966.9" r="5.5"/><circle cx="1682" cy="979.3" r="5.5"/><circle cx="1682" cy="991.6" r="5.5"/><circle cx="1723" cy="979" r="5.5"/><circle cx="1749" cy="984" r="5.5"/><circle cx="1736" cy="1008.7" r="5.5"/><circle cx="1791" cy="1005.6" r="5.5"/><circle cx="1791" cy="1027.2" r="5.5"/><circle cx="1791" cy="1041.1" r="5.5"/><circle cx="1845" cy="1076.7" r="5.5"/><circle cx="1845" cy="1087.6" r="5.5"/><circle cx="1845" cy="1101.5" r="5.5"/></g>
<path d="M1646,936V1168M1638,936H1646M1638,1013.5H1646M1638,1091H1646M1638,1168H1646" stroke="#111" stroke-width="3" fill="none"/>
<path d="M1635,1168H1881M1682,1168V1180M1736,1168V1180M1791,1168V1180M1845,1168V1180" stroke="#111" stroke-width="4" fill="none"/>
<g font-size="17" font-weight="bold" text-anchor="end"><text x="1636" y="942">15000</text><text x="1636" y="1019">10000</text><text x="1636" y="1097">5000</text><text x="1636" y="1174">0</text></g>
<g font-size="17" font-weight="bold" text-anchor="middle"><text x="1682" y="1199">0</text><text x="1736" y="1199">50</text><text x="1791" y="1199">100</text><text x="1845" y="1199">150</text></g>
<text x="1763" y="1229" font-size="19" font-weight="bold" text-anchor="middle">FTO inhibitor (µM)</text>
<path d="M1680,934H1848" stroke="#111" stroke-width="4"/>
<text class="lg" x="1763" y="921" text-anchor="middle">p=0.0053</text>
<text font-size="18" font-weight="bold" transform="translate(1571,1053) rotate(-90)" text-anchor="middle">TNFα (pg / ml)</text>

<!-- ================= J ================= -->
<text x="257" y="1404" font-size="19" text-anchor="middle">TNF_Reference</text>
<text x="257" y="1426" font-size="19" text-anchor="middle">Control <tspan font-style="italic">vs.</tspan> <tspan style="fill:#d35fae">METTL3_KO</tspan></text>
<g fill="none" stroke-width="1.5">
<polyline stroke="#111" points="106,1677 148.6,1676 169.9,1674.6 191.2,1671.9 212.6,1666.8 233.9,1658.6 255.2,1647.4 276.5,1632.1 297.8,1613.8 319.2,1593.4 340.5,1573 361.8,1554.6 383.1,1537.3 404.4,1522 425.8,1507.7 447.1,1494.4 468.4,1482.2"/>
<polyline stroke="#111" points="106,1677 148.6,1676.2 169.9,1675 191.2,1672.5 212.6,1667.6 233.9,1660 255.2,1649.5 276.5,1634.6 297.8,1617 319.2,1597 340.5,1577 361.8,1558.5 383.1,1541 404.4,1525.5 425.8,1511.2 447.1,1498 468.4,1485.8"/>
<polyline stroke="#d35fae" points="106,1677 148.6,1675.8 169.9,1674 191.2,1670.9 212.6,1665.8 233.9,1657.6 255.2,1645.4 276.5,1629 297.8,1610.7 319.2,1590.3 340.5,1568.9 361.8,1549.5 383.1,1531.1 404.4,1515 425.8,1500.6 447.1,1486.3 468.4,1472"/>
<polyline stroke="#d35fae" points="106,1677 148.6,1675.9 169.9,1674.3 191.2,1671.4 212.6,1666.2 233.9,1658 255.2,1646.5 276.5,1631 297.8,1612.5 319.2,1592 340.5,1571.5 361.8,1553 383.1,1535.5 404.4,1520 425.8,1505.5 447.1,1492 468.4,1479.5"/>
</g>
<path d="M42,1457V1677M38,1473H42M38,1514H42M38,1555H42M38,1596H42M38,1637H42M42,1677H511M42,1677v4M84.6,1677v4M127.3,1677v4M169.9,1677v4M212.6,1677v4M255.2,1677v4M297.8,1677v4M340.5,1677v4M383.1,1677v4M425.8,1677v4M468.4,1677v4M511,1677v4" stroke="#111" stroke-width="1.3" fill="none"/>
<g font-size="11" text-anchor="end"><text x="37" y="1477">10.0</text><text x="37" y="1518">8.00</text><text x="37" y="1559">6.00</text><text x="37" y="1600">4.00</text><text x="37" y="1641">2.00</text></g>
<g font-size="11" text-anchor="middle"><text x="42" y="1693">20</text><text x="84.6" y="1693">22</text><text x="127.3" y="1693">24</text><text x="169.9" y="1693">26</text><text x="212.6" y="1693">28</text><text x="255.2" y="1693">30</text><text x="297.8" y="1693">32</text><text x="340.5" y="1693">34</text><text x="383.1" y="1693">36</text><text x="425.8" y="1693">38</text><text x="468.4" y="1693">40</text><text x="511" y="1693">42</text></g>
<text x="264" y="1711" font-size="17" text-anchor="middle">Cycle</text>
<text font-size="18" font-weight="bold" transform="translate(15,1568) rotate(-90)" text-anchor="middle">ΔRn</text>
<rect x="58" y="1453" width="121" height="182" rx="9" fill="#fff" stroke="#555" stroke-width="1.3" stroke-dasharray="3,2"/>
<rect x="107" y="1478" width="19" height="91" fill="#7f7f7f" stroke="#111" stroke-width="1.5"/>
<rect x="135" y="1478" width="20" height="91" fill="#e9b3d9" stroke="#d35fae" stroke-width="1.5"/>
<path d="M116.5,1473V1482M113,1473H120M145,1465V1489M141,1465H149" stroke="#111" stroke-width="1" fill="none"/>
<circle cx="113" cy="1474" r="1.8" fill="#111"/><circle cx="117" cy="1481" r="1.8" fill="#111"/>
<circle cx="145" cy="1465" r="1.8" fill="#d35fae"/><circle cx="145" cy="1484" r="1.8" fill="#d35fae"/>
<path d="M98,1467V1569M95,1468H98M95,1502H98M95,1535H98M95,1569H98M98,1569H165M116,1569v3M145,1569v3" stroke="#111" stroke-width="1.5" fill="none"/>
<g font-size="7" font-weight="bold" text-anchor="end"><text x="94" y="1471">28</text><text x="94" y="1505">27</text><text x="94" y="1538">26</text><text x="94" y="1572">25</text></g>
<text font-size="7" font-weight="bold" transform="translate(78,1518) rotate(-90)" text-anchor="middle">Ct</text>
<g font-size="7" font-weight="bold" font-style="italic" text-anchor="end"><text transform="translate(119,1578) rotate(-60)">CTL</text><text transform="translate(148,1578) rotate(-60)">METTL3_KO</text></g>

<!-- ================= K ================= -->
<text x="827" y="1403" font-size="19" text-anchor="middle">TNF_ARE site</text>
<text x="828" y="1425" font-size="19" text-anchor="middle">Control <tspan font-style="italic">vs.</tspan> <tspan style="fill:#d35fae">METTL3_KO</tspan></text>
<path d="M609,1678H1089" stroke="#aaa" stroke-width="3"/>
<g fill="none" stroke-width="1.5">
<polyline stroke="#111" points="609,1678 630.8,1677.8 652.6,1677.4 674.5,1676.3 696.3,1674.4 718.1,1671.7 739.9,1667.5 761.7,1660.2 783.6,1648.6 805.4,1631.8 827.2,1612.9 849,1595.05 870.8,1577.2 892.7,1563.55 914.5,1550.95 936.3,1538.35 958.1,1526.8 979.9,1515.25 1001.8,1503.7 1023.6,1493.2 1045.4,1482.7"/>
<polyline stroke="#111" points="609,1678 630.8,1677.8 652.6,1677.4 674.5,1676.3 696.3,1674.4 718.1,1671.9 739.9,1667.7 761.7,1660.6 783.6,1649.2 805.4,1632.9 827.2,1614.6 849,1597.2 870.8,1579.7 892.7,1566.5 914.5,1554.1 936.3,1541.9 958.1,1530.6 979.9,1519.2 1001.8,1508.1 1023.6,1497.8 1045.4,1487.5"/>
<polyline stroke="#d35fae" points="609,1676.7 630.8,1675.5 652.6,1673.8 674.5,1672.1 696.3,1669.6 718.1,1663.3 739.9,1653.85 761.7,1640.2 783.6,1623.4 805.4,1606.6 827.2,1589.8 849,1574.05 870.8,1558.3 892.7,1545.7 914.5,1534.15 936.3,1520.5 958.1,1507.9 979.9,1497.4 1001.8,1486.9 1023.6,1476.4 1045.4,1466.95"/>
<polyline stroke="#d35fae" points="609,1676.7 630.8,1675.5 652.6,1673.8 674.5,1672.1 696.3,1669.8 718.1,1663.5 739.9,1654.3 761.7,1640.8 783.6,1624.2 805.4,1607.65 827.2,1591.1 849,1575.5 870.8,1560.2 892.7,1547.6 914.5,1536.25 936.3,1522.8 958.1,1510.4 979.9,1500.1 1001.8,1489.8 1023.6,1479.3 1045.4,1470.1"/>
</g>
<path d="M609,1452V1678M605,1468H609M605,1510H609M605,1552H609M605,1594H609M605,1636H609M609,1678H1089M609,1678v4M652.6,1678v4M696.3,1678v4M739.9,1678v4M783.6,1678v4M827.2,1678v4M870.8,1678v4M914.5,1678v4M958.1,1678v4M1001.8,1678v4M1045.4,1678v4M1089,1678v4" stroke="#111" stroke-width="1.3" fill="none"/>
<g font-size="11" text-anchor="end"><text x="604" y="1472">10.0</text><text x="604" y="1514">8.00</text><text x="604" y="1556">6.00</text><text x="604" y="1598">4.00</text><text x="604" y="1640">2.00</text></g>
<g font-size="11" text-anchor="middle"><text x="609" y="1695">20</text><text x="652.6" y="1695">22</text><text x="696.3" y="1695">24</text><text x="739.9" y="1695">26</text><text x="783.6" y="1695">28</text><text x="827.2" y="1695">30</text><text x="870.8" y="1695">32</text><text x="914.5" y="1695">34</text><text x="958.1" y="1695">36</text><text x="1001.8" y="1695">38</text><text x="1045.4" y="1695">40</text><text x="1089" y="1695">42</text></g>
<text x="837" y="1713" font-size="17" text-anchor="middle">Cycle</text>
<text font-size="18" font-weight="bold" transform="translate(586,1565) rotate(-90)" text-anchor="middle">ΔRn</text>
<rect x="623" y="1453" width="122" height="180" rx="9" fill="#fff" stroke="#555" stroke-width="1.3" stroke-dasharray="3,2"/>
<rect x="672" y="1498" width="20" height="87" fill="#7f7f7f" stroke="#111" stroke-width="1.5"/>
<rect x="703" y="1558" width="20" height="27" fill="#e9b3d9" stroke="#d35fae" stroke-width="1.5"/>
<circle cx="679" cy="1494" r="1.8" fill="#111"/><circle cx="684" cy="1496" r="1.8" fill="#111"/><circle cx="713" cy="1556" r="1.8" fill="#d35fae"/>
<path d="M663,1482V1585M660,1482H663M660,1516H663M660,1550H663M660,1585H663M663,1585H733M682,1585v3M713,1585v3" stroke="#111" stroke-width="1.5" fill="none"/>
<g font-size="7" font-weight="bold" text-anchor="end"><text x="659" y="1485">26</text><text x="659" y="1519">25</text><text x="659" y="1553">24</text><text x="659" y="1588">23</text></g>
<text font-size="7" font-weight="bold" transform="translate(643,1533) rotate(-90)" text-anchor="middle">Ct</text>
<g font-size="7" font-weight="bold" font-style="italic" text-anchor="end"><text transform="translate(684,1593) rotate(-60)">CTL</text><text transform="translate(715,1593) rotate(-60)">METTL3_KO</text></g>

<!-- ================= L ================= -->
<path d="M1243,1640H1400" stroke="#111" stroke-width="2.5" stroke-dasharray="2,2"/>
<rect x="1264" y="1536.2" width="44" height="162.8" fill="#c85fa2" stroke="#111" stroke-width="2.5"/>
<rect x="1333" y="1657.7" width="44" height="41.3" fill="#5270b7" stroke="#111" stroke-width="2.5"/>
<path d="M1286,1568V1503.7M1278,1568H1294M1278,1503.7H1294M1355,1672.5V1641.2M1347,1672.5H1363M1347,1641.2H1363" stroke="#111" stroke-width="2" fill="none"/>
<g fill="#111"><circle cx="1280" cy="1501.4" r="5"/><circle cx="1292" cy="1505.5" r="5"/><circle cx="1286" cy="1599.9" r="5"/><circle cx="1355" cy="1625.3" r="5"/><circle cx="1349" cy="1674.2" r="5"/><circle cx="1361" cy="1671.3" r="5"/></g>
<text x="1420" y="1646" font-size="17" style="fill:#888">CTL</text>
<path d="M1240,1463V1699M1232,1463H1240M1232,1522H1240M1232,1581H1240M1232,1640H1240M1232,1699H1240" stroke="#111" stroke-width="3" fill="none"/>
<path d="M1233,1699H1400M1286,1699V1711M1355,1699V1711" stroke="#111" stroke-width="3.5" fill="none"/>
<g class="tk" font-size="16" text-anchor="end"><text x="1229" y="1469">4</text><text x="1229" y="1528">3</text><text x="1229" y="1587">2</text><text x="1229" y="1646">1</text><text x="1229" y="1705">0</text></g>
<path d="M1270,1444H1306" stroke="#111" stroke-width="4"/>
<text class="lg" x="1288" y="1434" text-anchor="middle">p=0.0492</text>
<path d="M1286,1490V1478H1355V1581" stroke="#111" stroke-width="2.5" fill="none"/>
<text class="lg" x="1321" y="1468" text-anchor="middle">p=0.0269</text>
<text font-size="16" font-weight="bold" transform="translate(1189,1581) rotate(-90)" text-anchor="middle">ARE site fold change</text>
<text font-size="16" font-weight="bold" transform="translate(1208,1581) rotate(-90)" text-anchor="middle">(relative to reference)</text>
<g class="xl" text-anchor="end"><text transform="translate(1291,1718) rotate(-45)">METTL3_KO</text><text transform="translate(1360,1718) rotate(-45)">FTO_KO</text></g>

<!-- ================= M ================= -->
<g stroke="#111" stroke-width="3.5">
<rect x="1671" y="1555.7" width="46" height="81.9" fill="#ef9f89"/>
<rect x="1741" y="1632.9" width="46" height="38.2" fill="#83cbcb"/>
<rect x="1812" y="1625.9" width="46" height="35.1" fill="#f6c890"/>
</g>
<path d="M1671,1604.8H1717M1693,1555.7V1499.5M1693,1637.6V1645.4M1681,1499.5H1705M1681,1645.4H1705M1741,1643.8H1787M1764,1632.9V1590.8M1764,1671.1V1686M1752,1590.8H1776M1752,1686H1776M1812,1629.8H1858M1835,1625.9V1559.6M1835,1661V1668.8M1823,1559.6H1847M1823,1668.8H1847" stroke="#111" stroke-width="3.5" fill="none"/>
<path d="M1648,1622H1882" stroke="#111" stroke-width="2.5" stroke-dasharray="2,2"/>
<g fill="#e2371c"><circle cx="1693" cy="1499.7" r="5.5"/><circle cx="1693" cy="1545.3" r="5.5"/><circle cx="1693" cy="1558.5" r="5.5"/><circle cx="1693" cy="1573.8" r="5.5"/><circle cx="1693" cy="1592.7" r="5.5"/><circle cx="1693" cy="1617.3" r="5.5"/><circle cx="1713" cy="1632.6" r="5.5"/><circle cx="1693" cy="1638" r="5.5"/><circle cx="1675" cy="1645" r="5.5"/><circle cx="1712" cy="1643.3" r="5.5"/></g>
<g fill="#0f9e9e"><circle cx="1764" cy="1591.6" r="5.5"/><circle cx="1764" cy="1618.4" r="5.5"/><circle cx="1758" cy="1637.3" r="5.5"/><circle cx="1771" cy="1637.3" r="5.5"/><circle cx="1745" cy="1645.1" r="5.5"/><circle cx="1771" cy="1645.1" r="5.5"/><circle cx="1783" cy="1641.5" r="5.5"/><circle cx="1758" cy="1670" r="5.5"/><circle cx="1771" cy="1679.7" r="5.5"/><circle cx="1758" cy="1686.8" r="5.5"/></g>
<g fill="#f08c15"><circle cx="1835" cy="1560.3" r="5.5"/><circle cx="1829" cy="1622" r="5.5"/><circle cx="1816" cy="1625.5" r="5.5"/><circle cx="1841" cy="1625.5" r="5.5"/><circle cx="1853" cy="1624.8" r="5.5"/><circle cx="1829" cy="1633.7" r="5.5"/><circle cx="1816" cy="1652.2" r="5.5"/><circle cx="1853" cy="1661.2" r="5.5"/><circle cx="1816" cy="1670" r="5.5"/><circle cx="1841" cy="1669" r="5.5"/></g>
<text x="1896" y="1629" font-size="19" style="fill:#888">WT</text>
<path d="M1646,1466V1700M1638,1466H1646M1638,1544H1646M1638,1622H1646M1638,1700H1646" stroke="#111" stroke-width="3" fill="none"/>
<path d="M1636,1700H1881M1693,1700V1712M1764,1700V1712M1835,1700V1712" stroke="#111" stroke-width="3.5" fill="none"/>
<g class="tk" font-size="16" text-anchor="end"><text x="1636" y="1472">3</text><text x="1636" y="1550">2</text><text x="1636" y="1628">1</text><text x="1636" y="1706">0</text></g>
<path d="M1693,1486V1474H1764V1546" stroke="#111" stroke-width="3.5" fill="none"/>
<text class="lg" x="1729" y="1460" text-anchor="middle">p=0.0114</text>
<path d="M1693,1445V1430H1835V1506" stroke="#111" stroke-width="3.5" fill="none"/>
<text class="lg" x="1765" y="1418" text-anchor="middle">p=0.0546</text>
<text font-size="16" font-weight="bold" transform="translate(1598,1585) rotate(-90)" text-anchor="middle"><tspan font-style="italic">GFP</tspan> mRNA fold change</text>
<text font-size="16" font-weight="bold" transform="translate(1617,1585) rotate(-90)" text-anchor="middle">(relative to katushka)</text>
<g class="xl" text-anchor="end">
<text transform="translate(1697,1720) rotate(-47)">3’UTR-TNF_ARE<tspan dy="-7" font-size="11">mut</tspan></text>
<text transform="translate(1768,1722) rotate(-47)">3’UTR-TNF_RRACH<tspan dy="-7" font-size="11">mut</tspan></text>
<text transform="translate(1839,1722) rotate(-47)">3’UTR-TNF_ARE<tspan dy="-7" font-size="11">mut</tspan><tspan dy="7">/RRACH</tspan><tspan dy="-7" font-size="11">mut</tspan></text>
</g>

<!-- ================= N ================= -->
<text x="481" y="1933" font-size="20" font-weight="bold" text-anchor="middle">3’UTR-<tspan font-style="italic">TNF_</tspan></text>
<path d="M104,1949H861" stroke="#111" stroke-width="4"/>
<g font-size="20" text-anchor="middle">
<text x="174" y="1985">WT</text>
<text x="384" y="1985">ARE<tspan dy="-8" font-size="13">mut</tspan></text>
<text x="591" y="1985">RRACH<tspan dy="-8" font-size="13">mut</tspan></text>
<text x="796" y="1985">ARE<tspan dy="-8" font-size="13">mut</tspan><tspan dy="8">/RRACH</tspan><tspan dy="-8" font-size="13">mut</tspan></text>
</g>
<use href="#nfr" x="100" y="1997"/><use href="#nfr" x="302" y="1997"/><use href="#nfr" x="504" y="1997"/><use href="#nfr" x="705" y="1997"/>
<use href="#nfr" x="100" y="2213"/><use href="#nfr" x="302" y="2213"/><use href="#nfr" x="504" y="2213"/><use href="#nfr" x="705" y="2217"/>
<use href="#nr1" x="100" y="1997" stroke="#555" fill="#555" stroke-width="0.9"/>
<use href="#nr1" x="302" y="1997" stroke="#a8424e" fill="#a8424e" stroke-width="0.9"/>
<use href="#nr1" x="504" y="1997" stroke="#2b8186" fill="#2b8186" stroke-width="0.9"/>
<use href="#nr1" x="705" y="1997" stroke="#e8913f" fill="#e8913f" stroke-width="0.9"/>
<use href="#nr2" x="100" y="2213" stroke="#777" fill="#777" stroke-width="0.9"/>
<use href="#nr2" x="302" y="2213" stroke="#b45a62" fill="#b45a62" stroke-width="0.9"/>
<use href="#nr2" x="504" y="2213" stroke="#4a9a9d" fill="#4a9a9d" stroke-width="0.9"/>
<use href="#nr2" x="705" y="2217" stroke="#f0a55c" fill="#f0a55c" stroke-width="0.9"/>
<g font-size="8" text-anchor="middle">
<text x="137" y="2032">6.17</text><text x="339" y="2032">13.9</text><text x="541" y="2032">10.3</text><text x="742" y="2032">13.3</text>
<text x="137" y="2248">59.7</text><text x="339" y="2248">69.5</text><text x="541" y="2248">64.4</text><text x="742" y="2252">68.9</text>
</g>
<text x="873" y="2089" font-size="18">Not Activated</text>
<text x="873" y="2294" font-size="18">Activated</text>
<text x="549" y="2270" font-size="8" font-family="Liberation Serif, serif">1/1</text>
<text x="551" y="2288" font-size="8.5" font-family="Liberation Serif, serif">file:///Users/lsilima/Desktop/CTL_MET_ARE.svg</text>
<path d="M65,2401V2268M63,2401H186" stroke="#111" stroke-width="4" fill="none"/>
<polygon points="55,2272 65,2251 76,2272" fill="#111"/>
<polygon points="184,2391 204,2401 184,2412" fill="#111"/>
<text font-size="20" transform="translate(52,2374) rotate(-90)" text-anchor="middle">GFP</text>
<text x="60" y="2426" font-size="19">CD8 - APC</text>

<!-- ================= O ================= -->
<text x="1295" y="1986" font-size="20" font-weight="bold" text-anchor="middle">3’UTR-<tspan font-style="italic">TNF_</tspan></text>
<rect x="1166" y="2001" width="245" height="378" fill="#fff" stroke="#555" stroke-width="1"/>
<path d="M1166,2156H1213L1224,2145L1233,2087L1240,2039L1245,2057L1252,2103L1262,2118L1269,2101L1276,2107L1282,2087L1291,2070L1296,2049L1301,2078L1307,2060L1313,2053L1318,2060L1327,2078L1338,2120L1347,2137L1360,2151L1371,2156H1411Z" fill="#f1c597" stroke="#de7a12" stroke-width="1.4"/>
<path d="M1166,2230H1219L1227,2203L1237,2116L1243,2141L1249,2178L1258,2197L1263,2192L1271,2197L1282,2174L1291,2157L1296,2155L1300,2162L1307,2156L1318,2162L1327,2187L1343,2216L1363,2230H1411Z" fill="#9dc0c0" stroke="#1a5c5e" stroke-width="1.4"/>
<path d="M1166,2305H1216L1227,2282L1235,2205L1245,2224L1255,2270L1263,2280L1274,2257L1288,2241L1296,2214L1300,2226L1306,2216L1310,2228L1316,2224L1321,2245L1330,2243L1343,2291L1363,2305H1411Z" fill="#d0979c" stroke="#8b1a1a" stroke-width="1.4"/>
<path d="M1166,2378H1216L1227,2337L1237,2259L1241,2260L1249,2287L1260,2346L1274,2320L1282,2307L1294,2295L1302,2291L1313,2299L1321,2312L1332,2349L1343,2376L1350,2378H1411Z" fill="#a5a5a5" fill-opacity="0.85" stroke="#333" stroke-width="1.4"/>
<path d="M1170,2379v3M1176,2379v3M1182,2379v3M1188,2379v3M1194,2379v3M1200,2379v5M1210,2379v3M1220,2379v4M1230,2379v4M1234,2379v4M1239,2379v5M1244,2379v4M1250,2379v3M1260,2379v3M1270,2379v3M1282,2379v5M1295,2379v3M1305,2379v3M1315,2379v3M1328,2379v5M1340,2379v3M1350,2379v3M1360,2379v3M1371,2379v5M1380,2379v3M1390,2379v3M1398,2379v3M1404,2379v5" stroke="#111" stroke-width="1"/>
<g class="ft" text-anchor="middle"><text x="1200" y="2392">-10³</text><text x="1239" y="2392">0</text><text x="1282" y="2392">10³</text><text x="1328" y="2392">10⁴</text><text x="1371" y="2392">10⁵</text><text x="1404" y="2392">10⁶</text></g>
<g font-size="19">
<text x="1422" y="2122">ARE<tspan dy="-8" font-size="13">mut</tspan><tspan dy="8"> /</tspan></text>
<text x="1422" y="2146">RRACH<tspan dy="-8" font-size="13">mut</tspan></text>
<text x="1422" y="2209">RRACH<tspan dy="-8" font-size="13">mut</tspan></text>
<text x="1422" y="2279">ARE<tspan dy="-8" font-size="13">mut</tspan></text>
<text x="1422" y="2350">WT</text>
</g>
<path d="M1224,2401H1347" stroke="#111" stroke-width="4"/>
<polygon points="1345,2390 1364,2401 1345,2412" fill="#111"/>
<text x="1288" y="2430" font-size="20" font-weight="bold" text-anchor="middle">GFP</text>

<!-- ================= P ================= -->
<g stroke="#111" stroke-width="3.5">
<rect x="1668" y="2280.2" width="36" height="32.5" fill="#c0c0c0"/>
<rect x="1727" y="2226.9" width="37" height="85.8" fill="#ef9f89"/>
<rect x="1786" y="2282.8" width="37" height="34.4" fill="#83cbcb"/>
<rect x="1845" y="2277.6" width="36" height="39" fill="#f6c890"/>
</g>
<path d="M1668,2290.6H1704M1686,2280.2V2162.5M1675,2162.5H1697M1686,2312.7V2318.6M1675,2318.6H1697M1727,2285.4H1764M1745,2226.9V2115.1M1734,2115.1H1756M1745,2312.7V2318.6M1734,2318.6H1756M1786,2295.8H1823M1804,2282.8V2156.7M1793,2156.7H1815M1793,2318.6H1815M1845,2301H1881M1863,2277.6V2074.8M1852,2074.8H1874M1852,2317.9H1874" stroke="#111" stroke-width="3.5" fill="none"/>
<g fill="#4d4d4d"><circle cx="1686" cy="2162.9" r="5"/><circle cx="1686" cy="2236.6" r="5"/><circle cx="1683" cy="2277.4" r="5"/><circle cx="1697" cy="2280.4" r="5"/><circle cx="1675" cy="2282.4" r="5"/><circle cx="1689" cy="2286.6" r="5"/><circle cx="1675" cy="2290.8" r="5"/><circle cx="1694" cy="2297" r="5"/><circle cx="1672" cy="2308.3" r="5"/><circle cx="1686" cy="2311.6" r="5"/><circle cx="1672" cy="2317" r="5"/><circle cx="1697" cy="2317" r="5"/><circle cx="1686" cy="2317" r="5"/></g>
<g fill="#e2371c"><circle cx="1745" cy="2115.8" r="5"/><circle cx="1745" cy="2194.1" r="5"/><circle cx="1745" cy="2213.7" r="5"/><circle cx="1745" cy="2226.2" r="5"/><circle cx="1736" cy="2278.3" r="5"/><circle cx="1753" cy="2279.5" r="5"/><circle cx="1741" cy="2285.4" r="5"/><circle cx="1755" cy="2284.5" r="5"/><circle cx="1736" cy="2308.3" r="5"/><circle cx="1755" cy="2308.3" r="5"/><circle cx="1730" cy="2315.8" r="5"/><circle cx="1761" cy="2315" r="5"/><circle cx="1745" cy="2317" r="5"/><circle cx="1755" cy="2317.8" r="5"/></g>
<g fill="#0f9e9e"><circle cx="1804" cy="2157.5" r="5"/><circle cx="1804" cy="2244.1" r="5"/><circle cx="1810" cy="2277.4" r="5"/><circle cx="1800" cy="2282.4" r="5"/><circle cx="1805" cy="2284.5" r="5"/><circle cx="1800" cy="2295.8" r="5"/><circle cx="1810" cy="2295.8" r="5"/><circle cx="1794" cy="2310.8" r="5"/><circle cx="1810" cy="2311.6" r="5"/><circle cx="1789" cy="2317" r="5"/><circle cx="1816" cy="2317.8" r="5"/><circle cx="1800" cy="2317.8" r="5"/></g>
<g fill="#f08c15"><circle cx="1863" cy="2075.4" r="5"/><circle cx="1866" cy="2274.9" r="5"/><circle cx="1855" cy="2277.4" r="5"/><circle cx="1860" cy="2284.5" r="5"/><circle cx="1858" cy="2295" r="5"/><circle cx="1866" cy="2297" r="5"/><circle cx="1847" cy="2315" r="5"/><circle cx="1874" cy="2315" r="5"/><circle cx="1855" cy="2316.6" r="5"/><circle cx="1866" cy="2317" r="5"/><circle cx="1877" cy="2317" r="5"/></g>
<path d="M1647,2067V2327M1639,2067H1647M1639,2132H1647M1639,2197H1647M1639,2262H1647M1639,2327H1647" stroke="#111" stroke-width="3" fill="none"/>
<path d="M1639,2327H1902M1686,2327V2339M1745,2327V2339M1804,2327V2339M1863,2327V2339" stroke="#111" stroke-width="3.5" fill="none"/>
<g class="tk" font-size="16" text-anchor="end"><text x="1636" y="2073">20000</text><text x="1636" y="2138">15000</text><text x="1636" y="2203">10000</text><text x="1636" y="2268">5000</text><text x="1636" y="2333">0</text></g>
<path d="M1686,2067V2052H1744V2066M1747,2066V2052H1863V2064M1745,2105V2096H1804V2137" stroke="#111" stroke-width="3.5" fill="none"/>
<g class="lg" text-anchor="middle"><text x="1715" y="2043">p=0.0508</text><text x="1805" y="2043">p=0.3564</text><text x="1775" y="2088">p=0.0466</text></g>
<text font-size="17" font-weight="bold" transform="translate(1589,2197) rotate(-90)" text-anchor="middle">MFI GFP</text>
<g font-size="16" font-weight="bold" text-anchor="end">
<text transform="translate(1690,2346) rotate(-45)">3’UTR-TNF_WT</text>
<text transform="translate(1749,2346) rotate(-45)">3’UTR-TNF_ARE<tspan dy="-7" font-size="11">mut</tspan></text>
<text transform="translate(1808,2346) rotate(-45)">3’UTR-TNF_RRACH<tspan dy="-7" font-size="11">mut</tspan></text>
<text transform="translate(1867,2346) rotate(-45)">3’UTR-TNF_ARE<tspan dy="-7" font-size="11">mut</tspan><tspan dy="7">/RRACH</tspan><tspan dy="-7" font-size="11">mut</tspan></text>
</g>
</svg>
</body></html>
